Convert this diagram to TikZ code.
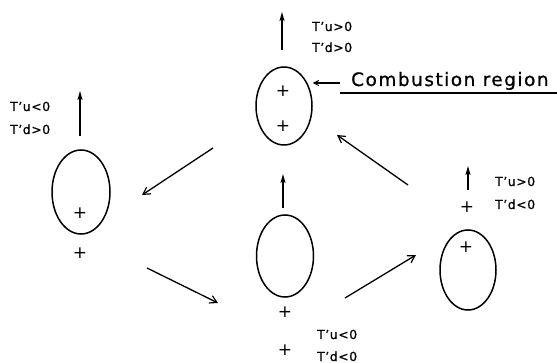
\documentclass[tikz,border=0pt]{standalone}
\usepackage{fontspec}
\setmainfont{DejaVu Sans}
\newfontfamily\lblfont[LetterSpace=4,FakeBold=0.8]{DejaVu Sans}
\newfontfamily\crfont[LetterSpace=8,FakeBold=0.8]{DejaVu Sans}
\usetikzlibrary{shapes.geometric,arrows.meta}
\begin{document}
\begin{tikzpicture}[x=1pt,y=-1pt,
  blob/.style={draw,ellipse,line width=1.5pt,inner sep=0pt},
  plussign/.style={inner sep=0pt,font=\fontsize{17}{17}\selectfont},
  lbl/.style={anchor=base west,inner sep=0pt,font=\lblfont\fontsize{12.5}{12.5}\selectfont},
  uparrow/.style={line width=1.4pt,-{Stealth[length=9pt,width=5pt,inset=2pt]}},
  diagarrow/.style={line width=1.3pt,-{Straight Barb[length=7pt,width=8pt,line width=1.2pt]}},
]
\useasboundingbox (0,0) rectangle (557,363);
% ellipses
\node[blob,minimum width=56pt,minimum height=78pt] (top) at (284,106) {};
\node[blob,minimum width=58pt,minimum height=84pt] (left) at (81,192) {};
\node[blob,minimum width=57pt,minimum height=82pt] (bot) at (285,256) {};
\node[blob,minimum width=56pt,minimum height=80pt] (right) at (468,270) {};
% plus signs
\node[plussign] (tp1) at (283,91) {+};
\node[plussign] (tp2) at (283,126) {+};
\node[plussign] (lp1) at (80,213) {+};
\node[plussign] (lp2) at (80,253) {+};
\node[plussign] (bp1) at (285,312) {+};
\node[plussign] (bp2) at (285,350) {+};
\node[plussign] (rp1) at (466,247) {+};
\node[plussign] (rp2) at (467,207) {+};
% vertical arrows
\coordinate (ta0) at (282,50); \coordinate (ta1) at (282,12);
\coordinate (la0) at (80,136); \coordinate (la1) at (80,91);
\coordinate (ba0) at (283,208); \coordinate (ba1) at (283,174);
\coordinate (ra0) at (468,190); \coordinate (ra1) at (468,166);
\draw[uparrow] (ta0) -- (ta1);
\draw[uparrow] (la0) -- (la1);
\draw[uparrow] (ba0) -- (ba1);
\draw[uparrow] (ra0) -- (ra1);
% diagonal arrows
\coordinate (d1a) at (213,148); \coordinate (d1b) at (142,195);
\coordinate (d2a) at (147,268); \coordinate (d2b) at (218,303);
\coordinate (d3a) at (345,298); \coordinate (d3b) at (416,255);
\coordinate (d4a) at (408,185); \coordinate (d4b) at (337,135);
\draw[diagarrow] (d1a) -- (d1b);
\draw[diagarrow] (d2a) -- (d2b);
\draw[diagarrow] (d3a) -- (d3b);
\draw[diagarrow] (d4a) -- (d4b);
% labels
\node[lbl] (t1) at (312,31) {T’u>0};
\node[lbl] (t2) at (312,52) {T’d>0};
\node[lbl] (l1) at (10,111) {T’u<0};
\node[lbl] (l2) at (10,134) {T’d>0};
\node[lbl] (r1) at (495,186) {T’u>0};
\node[lbl] (r2) at (495,209) {T’d<0};
\node[lbl] (b1) at (317,339) {T’u<0};
\node[lbl] (b2) at (317,361) {T’d<0};
% combustion region
\node[anchor=base west,inner sep=0pt,font=\crfont\fontsize{18.5}{18.5}\selectfont] (cr) at (351,86) {Combustion region};
\coordinate (cra) at (340,83);
\draw[line width=1.2pt,-{Straight Barb[length=5pt,width=5pt,line width=1pt]}] (cra) -- (top.east |- cra);
\coordinate (ul0) at (340,93); \coordinate (ul1) at (557,93);
\draw[line width=1.6pt] (ul0) -- (ul1);
\end{tikzpicture}
\end{document}
